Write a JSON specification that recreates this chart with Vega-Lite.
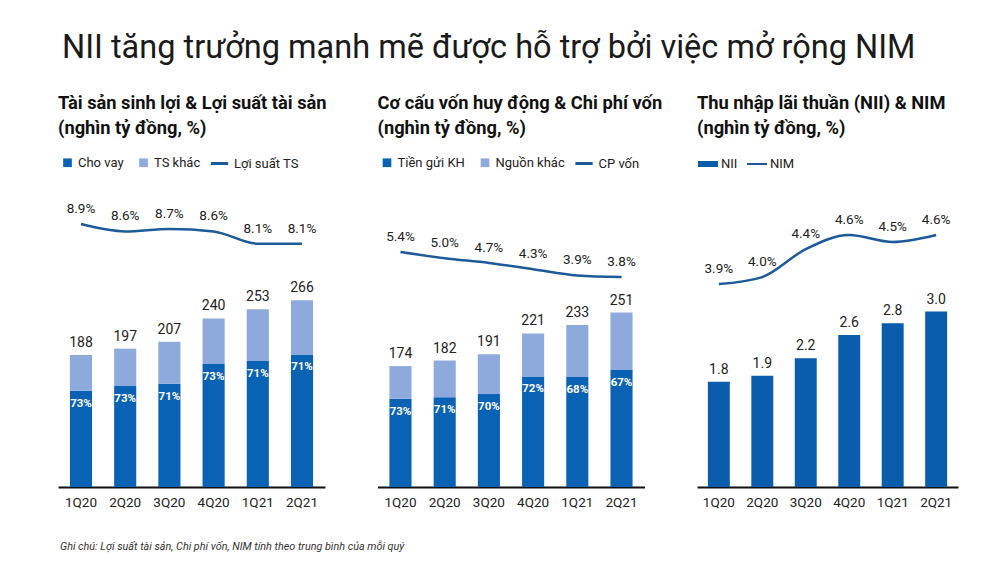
{
  "$schema": "https://vega.github.io/schema/vega-lite/v6.json",
  "background": "white",
  "padding": {"left": 58, "top": 32, "right": 5, "bottom": 5},
  "config": {
    "view": {"stroke": null},
    "font": "Roboto",
    "text": {"font": "Roboto"},
    "legend": {"labelFont": "Roboto", "labelColor": "#222", "labelFontSize": 13},
    "axis": {"labelFont": "Roboto"}
  },
  "datasets": {
    "assets": [
      {"q": "1Q20", "type": "Cho vay", "value": 137.2, "pct": 0.73},
      {"q": "1Q20", "type": "TS khác", "value": 50.8},
      {"q": "2Q20", "type": "Cho vay", "value": 143.8, "pct": 0.73},
      {"q": "2Q20", "type": "TS khác", "value": 53.2},
      {"q": "3Q20", "type": "Cho vay", "value": 147.0, "pct": 0.71},
      {"q": "3Q20", "type": "TS khác", "value": 60.0},
      {"q": "4Q20", "type": "Cho vay", "value": 175.2, "pct": 0.73},
      {"q": "4Q20", "type": "TS khác", "value": 64.8},
      {"q": "1Q21", "type": "Cho vay", "value": 179.6, "pct": 0.71},
      {"q": "1Q21", "type": "TS khác", "value": 73.4},
      {"q": "2Q21", "type": "Cho vay", "value": 188.9, "pct": 0.71},
      {"q": "2Q21", "type": "TS khác", "value": 77.1}
    ],
    "assetTot": [
      {"q": "1Q20", "total": 188, "yield": 0.089},
      {"q": "2Q20", "total": 197, "yield": 0.086},
      {"q": "3Q20", "total": 207, "yield": 0.087},
      {"q": "4Q20", "total": 240, "yield": 0.086},
      {"q": "1Q21", "total": 253, "yield": 0.081},
      {"q": "2Q21", "total": 266, "yield": 0.081}
    ],
    "funding": [
      {"q": "1Q20", "type": "Tiền gửi KH", "value": 127.0, "pct": 0.73},
      {"q": "1Q20", "type": "Nguồn khác", "value": 47.0},
      {"q": "2Q20", "type": "Tiền gửi KH", "value": 129.2, "pct": 0.71},
      {"q": "2Q20", "type": "Nguồn khác", "value": 52.8},
      {"q": "3Q20", "type": "Tiền gửi KH", "value": 133.7, "pct": 0.70},
      {"q": "3Q20", "type": "Nguồn khác", "value": 57.3},
      {"q": "4Q20", "type": "Tiền gửi KH", "value": 159.1, "pct": 0.72},
      {"q": "4Q20", "type": "Nguồn khác", "value": 61.9},
      {"q": "1Q21", "type": "Tiền gửi KH", "value": 158.4, "pct": 0.68},
      {"q": "1Q21", "type": "Nguồn khác", "value": 74.6},
      {"q": "2Q21", "type": "Tiền gửi KH", "value": 168.2, "pct": 0.67},
      {"q": "2Q21", "type": "Nguồn khác", "value": 82.8}
    ],
    "fundTot": [
      {"q": "1Q20", "total": 174, "cost": 0.054},
      {"q": "2Q20", "total": 182, "cost": 0.050},
      {"q": "3Q20", "total": 191, "cost": 0.047},
      {"q": "4Q20", "total": 221, "cost": 0.043},
      {"q": "1Q21", "total": 233, "cost": 0.039},
      {"q": "2Q21", "total": 251, "cost": 0.038}
    ],
    "nii": [
      {"q": "1Q20", "nii": 1.8, "nim": 0.039},
      {"q": "2Q20", "nii": 1.9, "nim": 0.040},
      {"q": "3Q20", "nii": 2.2, "nim": 0.044},
      {"q": "4Q20", "nii": 2.6, "nim": 0.046},
      {"q": "1Q21", "nii": 2.8, "nim": 0.045},
      {"q": "2Q21", "nii": 3.0, "nim": 0.046}
    ]
  },
  "title": {
    "text": "NII tăng trưởng mạnh mẽ được hỗ trợ bởi việc mở rộng NIM",
    "anchor": "start",
    "font": "Roboto",
    "fontSize": 32.5,
    "fontWeight": "normal",
    "color": "#1a1a1a",
    "offset": 29,
    "dx": 4
  },
  "vconcat": [
    {
      "title": {
        "text": "Ghi chú: Lợi suất tài sản, Chi phí vốn, NIM tính theo trung bình của mỗi quý",
        "orient": "bottom",
        "anchor": "start",
        "font": "Roboto",
        "fontSize": 10.8,
        "fontStyle": "italic",
        "fontWeight": "normal",
        "color": "#333",
        "offset": 32,
        "dx": 2
      },
      "spacing": 52.5,
      "bounds": "flush",
      "resolve": {
        "scale": {"color": "independent", "stroke": "independent", "x": "independent", "y": "independent"},
        "legend": {"color": "independent", "stroke": "independent"}
      },
      "hconcat": [
        {
          "width": 267,
          "height": 296,
          "title": {"text": ["Tài sản sinh lợi & Lợi suất tài sản", "(nghìn tỷ đồng, %)"], "anchor": "start", "font": "Roboto", "fontSize": 18.3, "fontWeight": "bold", "lineHeight": 25, "offset": 15, "color": "#111"},
          "resolve": {"scale": {"y": "independent"}},
          "layer": [
            {
              "data": {"name": "assets"},
              "mark": {"type": "bar"},
              "encoding": {
                "x": {"field": "q", "type": "nominal", "sort": null, "scale": {"paddingInner": 0.5, "paddingOuter": 0.27},
                  "axis": {"title": null, "labelAngle": 0, "domainColor": "#111", "domainWidth": 2, "ticks": false, "labelFontSize": 13.5, "labelPadding": 8, "labelColor": "#222"}},
                "y": {"field": "value", "type": "quantitative", "stack": "zero", "scale": {"domain": [0, 421.6]}, "axis": null},
                "color": {"field": "type", "type": "nominal", "scale": {"domain": ["Cho vay", "TS khác"], "range": ["#0a62b4", "#8eaadc"]},
                  "legend": {"title": null, "orient": "top", "direction": "horizontal", "symbolType": "M-0.5,-0.5H0.5V0.5H-0.5Z", "symbolSize": 300, "labelOffset": 1, "columnPadding": 10, "offset": 20}},
                "order": {"field": "type", "sort": "ascending"}
              }
            },
            {
              "data": {"name": "assets"},
              "transform": [{"filter": "datum.type == 'Cho vay'"}],
              "mark": {"type": "text", "dy": 13, "color": "white", "fontSize": 11.5, "fontWeight": "bold"},
              "encoding": {
                "x": {"field": "q", "type": "nominal", "sort": null},
                "y": {"field": "value", "type": "quantitative", "scale": {"domain": [0, 421.6]}, "axis": null},
                "text": {"field": "pct", "type": "quantitative", "format": ".0%"}
              }
            },
            {
              "data": {"name": "assetTot"},
              "mark": {"type": "text", "dy": -12, "color": "#222", "fontSize": 14},
              "encoding": {
                "x": {"field": "q", "type": "nominal", "sort": null},
                "y": {"field": "total", "type": "quantitative", "scale": {"domain": [0, 421.6]}, "axis": null},
                "text": {"field": "total", "type": "quantitative", "format": "d"}
              }
            },
            {
              "data": {"name": "assetTot"},
              "mark": {"type": "line", "interpolate": "monotone", "strokeWidth": 2.5},
              "encoding": {
                "x": {"field": "q", "type": "nominal", "sort": null},
                "y": {"field": "yield", "type": "quantitative", "scale": {"domain": [-0.0183, 0.1025]}, "axis": null},
                "stroke": {"datum": "Lợi suất TS", "type": "nominal", "scale": {"range": ["#1d5a9a"]},
                  "legend": {"title": null, "orient": "top", "symbolType": "stroke", "symbolStrokeWidth": 3, "symbolSize": 300, "offset": 20}}
              }
            },
            {
              "data": {"name": "assetTot"},
              "mark": {"type": "text", "dy": -15, "color": "#222", "fontSize": 13.5},
              "encoding": {
                "x": {"field": "q", "type": "nominal", "sort": null},
                "y": {"field": "yield", "type": "quantitative", "scale": {"domain": [-0.0183, 0.1025]}, "axis": null},
                "text": {"field": "yield", "type": "quantitative", "format": ".1%"}
              }
            }
          ]
        },
        {
          "width": 267,
          "height": 296,
          "title": {"text": ["Cơ cấu vốn huy động & Chi phí vốn", "(nghìn tỷ đồng, %)"], "anchor": "start", "font": "Roboto", "fontSize": 18.3, "fontWeight": "bold", "lineHeight": 25, "offset": 15, "color": "#111"},
          "resolve": {"scale": {"y": "independent"}},
          "layer": [
            {
              "data": {"name": "funding"},
              "mark": {"type": "bar"},
              "encoding": {
                "x": {"field": "q", "type": "nominal", "sort": null, "scale": {"paddingInner": 0.5, "paddingOuter": 0.27},
                  "axis": {"title": null, "labelAngle": 0, "domainColor": "#111", "domainWidth": 2, "ticks": false, "labelFontSize": 13.5, "labelPadding": 8, "labelColor": "#222"}},
                "y": {"field": "value", "type": "quantitative", "stack": "zero", "scale": {"domain": [0, 425.9]}, "axis": null},
                "color": {"field": "type", "type": "nominal", "scale": {"domain": ["Tiền gửi KH", "Nguồn khác"], "range": ["#0a62b4", "#8eaadc"]},
                  "legend": {"title": null, "orient": "top", "direction": "horizontal", "symbolType": "M-0.5,-0.5H0.5V0.5H-0.5Z", "symbolSize": 300, "labelOffset": 1, "columnPadding": 10, "offset": 20}},
                "order": {"field": "type", "sort": "descending"}
              }
            },
            {
              "data": {"name": "funding"},
              "transform": [{"filter": "datum.type == 'Tiền gửi KH'"}],
              "mark": {"type": "text", "dy": 13, "color": "white", "fontSize": 11.5, "fontWeight": "bold"},
              "encoding": {
                "x": {"field": "q", "type": "nominal", "sort": null},
                "y": {"field": "value", "type": "quantitative", "scale": {"domain": [0, 425.9]}, "axis": null},
                "text": {"field": "pct", "type": "quantitative", "format": ".0%"}
              }
            },
            {
              "data": {"name": "fundTot"},
              "mark": {"type": "text", "dy": -12, "color": "#222", "fontSize": 14},
              "encoding": {
                "x": {"field": "q", "type": "nominal", "sort": null},
                "y": {"field": "total", "type": "quantitative", "scale": {"domain": [0, 425.9]}, "axis": null},
                "text": {"field": "total", "type": "quantitative", "format": "d"}
              }
            },
            {
              "data": {"name": "fundTot"},
              "mark": {"type": "line", "interpolate": "monotone", "strokeWidth": 2.5},
              "encoding": {
                "x": {"field": "q", "type": "nominal", "sort": null},
                "y": {"field": "cost", "type": "quantitative", "scale": {"domain": [-0.0966, 0.0931]}, "axis": null},
                "stroke": {"datum": "CP vốn", "type": "nominal", "scale": {"range": ["#1d5a9a"]},
                  "legend": {"title": null, "orient": "top", "symbolType": "stroke", "symbolStrokeWidth": 3, "symbolSize": 300, "offset": 20}}
              }
            },
            {
              "data": {"name": "fundTot"},
              "mark": {"type": "text", "dy": -15, "color": "#222", "fontSize": 13.5},
              "encoding": {
                "x": {"field": "q", "type": "nominal", "sort": null},
                "y": {"field": "cost", "type": "quantitative", "scale": {"domain": [-0.0966, 0.0931]}, "axis": null},
                "text": {"field": "cost", "type": "quantitative", "format": ".1%"}
              }
            }
          ]
        },
        {
          "width": 261,
          "height": 296,
          "title": {"text": ["Thu nhập lãi thuần (NII) & NIM", "(nghìn tỷ đồng, %)"], "anchor": "start", "font": "Roboto", "fontSize": 18.3, "fontWeight": "bold", "lineHeight": 25, "offset": 15, "color": "#111"},
          "resolve": {"scale": {"y": "independent"}},
          "layer": [
            {
              "data": {"name": "nii"},
              "mark": {"type": "bar"},
              "encoding": {
                "x": {"field": "q", "type": "nominal", "sort": null, "scale": {"paddingInner": 0.495, "paddingOuter": 0.25},
                  "axis": {"title": null, "labelAngle": 0, "domainColor": "#111", "domainWidth": 2, "ticks": false, "labelFontSize": 13.5, "labelPadding": 8, "labelColor": "#222"}},
                "y": {"field": "nii", "type": "quantitative", "scale": {"domain": [0, 5.06]}, "axis": null},
                "color": {"datum": "NII", "type": "nominal", "scale": {"range": ["#0a5cad"]},
                  "legend": {"title": null, "orient": "top", "symbolType": "M-1,-0.3H1V0.3H-1Z", "symbolSize": 400, "labelOffset": 2, "offset": 20}}
              }
            },
            {
              "data": {"name": "nii"},
              "mark": {"type": "text", "dy": -12, "color": "#222", "fontSize": 14},
              "encoding": {
                "x": {"field": "q", "type": "nominal", "sort": null},
                "y": {"field": "nii", "type": "quantitative", "scale": {"domain": [0, 5.06]}, "axis": null},
                "text": {"field": "nii", "type": "quantitative", "format": ".1f"}
              }
            },
            {
              "data": {"name": "nii"},
              "mark": {"type": "line", "interpolate": "monotone", "strokeWidth": 2.5},
              "encoding": {
                "x": {"field": "q", "type": "nominal", "sort": null},
                "y": {"field": "nim", "type": "quantitative", "scale": {"domain": [0.010, 0.0523]}, "axis": null},
                "stroke": {"datum": "NIM", "type": "nominal", "scale": {"range": ["#1d5a9a"]},
                  "legend": {"title": null, "orient": "top", "symbolType": "stroke", "symbolStrokeWidth": 2, "symbolSize": 400, "labelOffset": 2, "offset": 20}}
              }
            },
            {
              "data": {"name": "nii"},
              "mark": {"type": "text", "dy": -15, "color": "#222", "fontSize": 13.5},
              "encoding": {
                "x": {"field": "q", "type": "nominal", "sort": null},
                "y": {"field": "nim", "type": "quantitative", "scale": {"domain": [0.010, 0.0523]}, "axis": null},
                "text": {"field": "nim", "type": "quantitative", "format": ".1%"}
              }
            }
          ]
        }
      ]
    }
  ]
}
